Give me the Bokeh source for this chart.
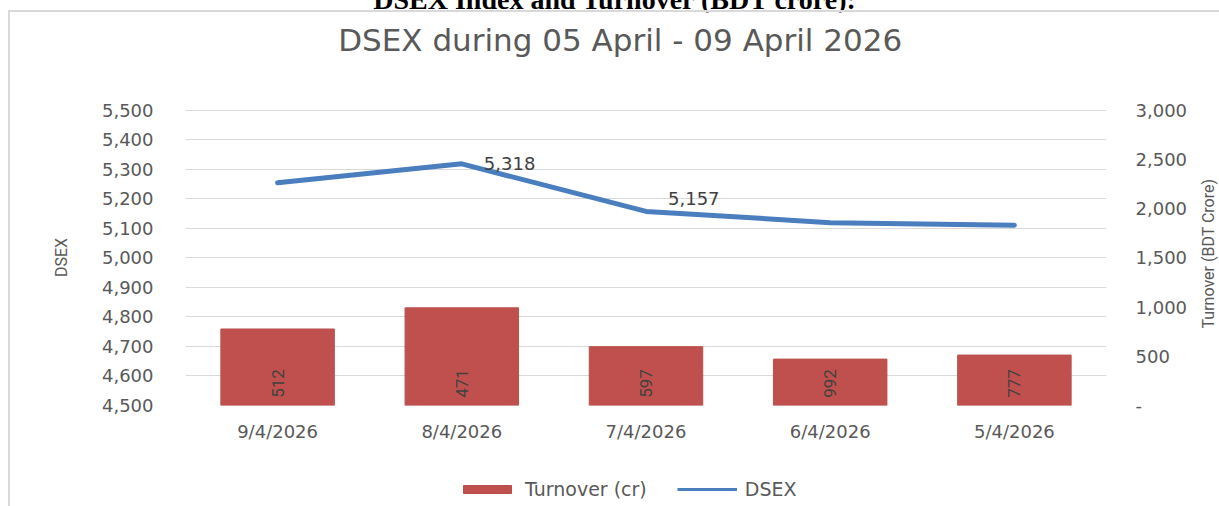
from bokeh.plotting import figure
from bokeh.layouts import column, row
from bokeh.models import (FactorRange, Range1d, LinearAxis, FixedTicker, NumeralTickFormatter,
                          Legend, LegendItem, Div)
from bokeh.embed import file_html
from bokeh.resources import INLINE
from bokeh.core.properties import value
import math

# ---- data ----
days = ["9/4/2026", "8/4/2026", "7/4/2026", "6/4/2026", "5/4/2026"]
dsex = [5254, 5318, 5157, 5119, 5110]
turnover = [777, 992, 597, 471, 512]
bar_labels = ["512", "471", "597", "992", "777"]
left_ticks = [4500, 4600, 4700, 4800, 4900, 5000, 5100, 5200, 5300, 5400, 5500]
right_ticks = [0, 500, 1000, 1500, 2000, 2500, 3000]
heading = "DSEX Index and Turnover (BDT crore):"
chart_title = "DSEX during 05 April - 09 April 2026"
right_axis_title = "Turnover (BDT Crore)"

GRAY = "#595959"
DARK = "#404040"
SANS = "DejaVu Sans"
NARROW = "Liberation Sans Narrow, Roboto, sans-serif"
BORDER = "#d9d9d9"
BAR_COLOR = "#c0504d"
LINE_COLOR = "#4a7ebf"


def blank_fig(w, h):
    f = figure(width=w, height=h, output_backend="svg", toolbar_location=None,
               x_range=Range1d(0, 1), y_range=Range1d(0, 1),
               min_border_left=0, min_border_right=0, min_border_top=0, min_border_bottom=0)
    f.axis.visible = False
    f.grid.grid_line_color = None
    f.outline_line_color = None
    return f


# ---- title strip ----
tt = blank_fig(1187, 50)
tt.text(x=[0.472], y=[0.46], text=[chart_title], text_align="center", text_baseline="middle",
        text_font=value(SANS), text_font_size="31px", text_color=GRAY)

# ---- main chart ----
p = figure(x_range=FactorRange(*days), y_range=Range1d(4500, 5502),
           width=1187, height=390, output_backend="svg", toolbar_location=None,
           min_border_left=175, min_border_right=91, min_border_top=47, min_border_bottom=47)
p.x_range.range_padding = 0
p.extra_y_ranges = {"turn": Range1d(0, 3006)}
p.outline_line_color = None
p.background_fill_color = "white"
p.border_fill_color = "white"

p.xgrid.grid_line_color = None
p.ygrid.grid_line_color = "#d9d9d9"
p.ygrid.grid_line_width = 1

bars = p.vbar(x=days, top=turnover, bottom=0, width=0.616, y_range_name="turn",
              fill_color=BAR_COLOR, line_color="#b9504c", line_width=1)
ln = p.line(x=days, y=dsex, line_color=LINE_COLOR, line_width=5, line_join="round", line_cap="round")

# bar labels (rotated)
p.text(x=days, y=[0] * len(days), text=bar_labels, y_range_name="turn",
       angle=math.pi / 2, text_align="center", text_baseline="middle", y_offset=-22,
       text_font=value(NARROW), text_font_size="17px", text_color=DARK)

# data labels on the line
p.text(x=[days[1]], y=[dsex[1]], text=[f"{dsex[1]:,}"], x_offset=22, y_offset=0,
       text_align="left", text_baseline="middle", text_font=value(SANS),
       text_font_size="18px", text_color=DARK)
p.text(x=[days[2]], y=[dsex[2]], text=[f"{dsex[2]:,}"], x_offset=22, y_offset=-13,
       text_align="left", text_baseline="middle", text_font=value(SANS),
       text_font_size="18px", text_color=DARK)

# left axis
ya = p.yaxis[0]
ya.ticker = FixedTicker(ticks=left_ticks)
ya.formatter = NumeralTickFormatter(format="0,0")
ya.axis_line_color = None
ya.major_tick_line_color = None
ya.minor_tick_line_color = None
ya.major_label_standoff = 26
ya.major_label_text_font = SANS
ya.major_label_text_font_size = "18px"
ya.major_label_text_color = GRAY
ya.axis_label = "DSEX"
ya.axis_label_text_font = NARROW
ya.axis_label_text_font_size = "16px"
ya.axis_label_text_font_style = "normal"
ya.axis_label_text_color = GRAY
ya.axis_label_standoff = 28

# right axis
ra = LinearAxis(y_range_name="turn", ticker=FixedTicker(ticks=right_ticks),
                formatter=NumeralTickFormatter(format="0,0"))
ra.major_label_overrides = {0: "-"}
ra.axis_line_color = None
ra.major_tick_line_color = None
ra.minor_tick_line_color = None
ra.major_label_standoff = 23
ra.major_label_text_font = SANS
ra.major_label_text_font_size = "18px"
ra.major_label_text_color = GRAY
p.add_layout(ra, "right")

# x axis
xa = p.xaxis[0]
xa.axis_line_color = None
xa.major_tick_line_color = None
xa.minor_tick_line_color = None
xa.major_label_standoff = 9
xa.major_label_text_font = SANS
xa.major_label_text_font_size = "18px"
xa.major_label_text_color = GRAY

# ---- legend strip ----
pl = blank_fig(1187, 54)
lg_bar = pl.vbar(x=[0.5], top=[0.5], width=0.1, fill_color=BAR_COLOR, line_color="#b9504c",
                 visible=False)
lg_line = pl.line(x=[0.5, 0.6], y=[0.5, 0.5], line_color=LINE_COLOR, line_width=3, visible=False)
legend = Legend(items=[LegendItem(label="Turnover (cr)", renderers=[lg_bar]),
                       LegendItem(label="DSEX", renderers=[lg_line])],
                location=(272, 6), orientation="horizontal",
                border_line_color=None, background_fill_alpha=0,
                inactive_fill_alpha=0,
                padding=0, margin=0, spacing=30, glyph_width=60, glyph_height=10,
                label_standoff=8, label_text_font=SANS, label_text_font_size="19px",
                label_text_color=GRAY)
pl.add_layout(legend, "center")

# ---- right axis title strip ----
rf = blank_fig(22, 494)
rf.text(x=[0.5], y=[0.512], text=[right_axis_title], angle=math.pi / 2,
        text_align="center", text_baseline="middle",
        text_font=value(NARROW), text_font_size="16px", text_color=GRAY)

head = Div(text=heading, width=1201, height=17,
           styles={"font-family": "Liberation Serif", "font-weight": "bold",
                   "font-size": "28px", "line-height": "24px", "text-align": "center",
                   "color": "black", "padding-left": "18px", "overflow": "visible",
                   "white-space": "nowrap"})
top_line = Div(text="", width=1211, height=2, margin=(0, 0, 0, 8),
               styles={"background-color": BORDER})
left_line = Div(text="", width=2, height=494, margin=(0, 0, 0, 8),
                styles={"background-color": BORDER})

layout = column(head, top_line,
                row(left_line, column(tt, p, pl, spacing=0), rf, spacing=0),
                spacing=0, styles={"margin-top": "-17px"})

open("out.html", "w").write(file_html(layout, INLINE))
